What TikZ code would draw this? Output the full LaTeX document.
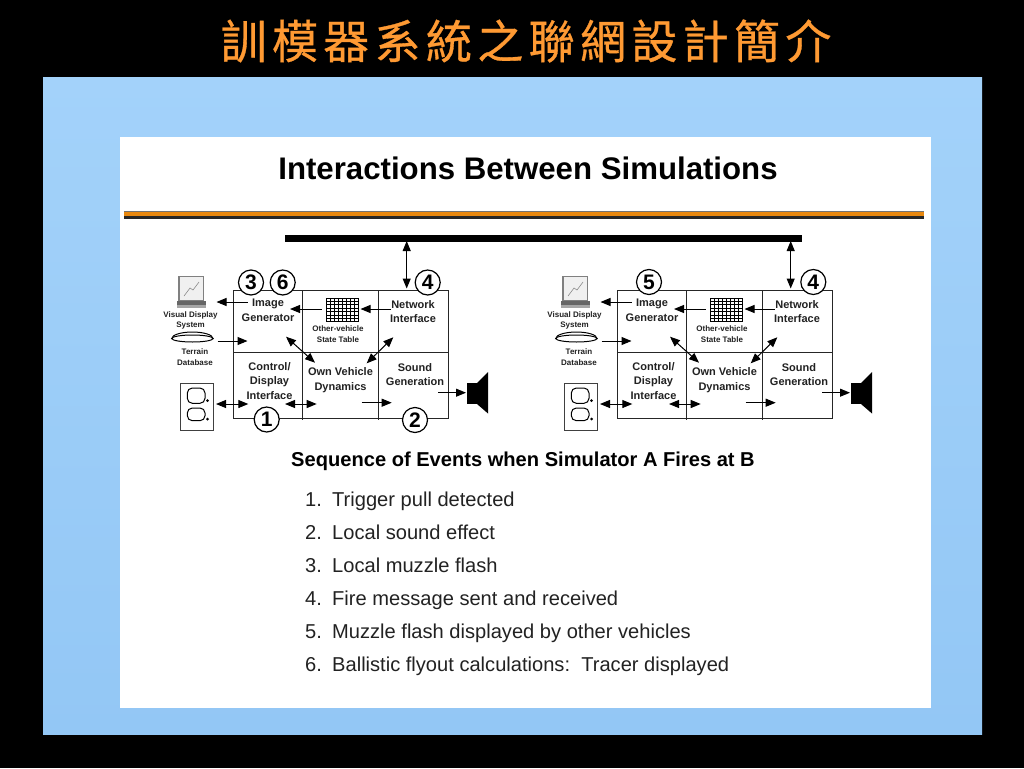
\documentclass[tikz,border=0pt]{standalone}
\usepackage{fontspec}
\setmainfont{Liberation Sans}
\newfontfamily\cjk[LetterSpace=11.6,FakeBold=0.7]{Noto Sans CJK TC}
\usetikzlibrary{arrows.meta,shadings}
\definecolor{skyblue}{HTML}{A3D2FA}
\definecolor{deepblue}{HTML}{93C7F5}
\definecolor{titleorange}{HTML}{FF9A33}
\definecolor{ruleorange}{HTML}{E8880F}
\definecolor{inkgray}{HTML}{222222}
\tikzset{
  sarrow/.style={line width=1pt,-{Stealth[length=10pt,width=8pt,inset=0pt]}},
  darrow/.style={line width=1pt,{Stealth[length=10pt,width=8pt,inset=0pt]}-{Stealth[length=10pt,width=8pt,inset=0pt]}},
  cell/.style={line width=0.9pt,black!85},
  boxlbl/.style={inner sep=0pt,align=center,text=inkgray,font=\fontsize{11}{14.7}\selectfont\bfseries},
  smalllbl/.style={inner sep=0pt,align=center,text=inkgray,font=\fontsize{8}{10.8}\selectfont\bfseries},
  stepnum/.style={circle,draw,fill=white,line width=1.2pt,minimum size=25pt,inner sep=0pt,font=\fontsize{21}{21}\selectfont\bfseries},
  itemlbl/.style={anchor=base west,inner sep=0pt,text=inkgray,font=\fontsize{20.1}{24}\selectfont},
}
\newcommand{\simblock}[2]{
  \begin{scope}[shift={(#2,0)},name prefix=#1-]
      \draw[cell] (233.5,290) rectangle (448,418);
      \draw[cell] (233.5,352)--(448,352);
      \draw[cell] (302,290)--(302,420);
      \draw[cell] (378,290)--(378,420);
      \node [boxlbl] (image) at (268,310) {Image\\Generator};
      \node [boxlbl] (network) at (413,311.5) {Network\\Interface};
      \node [boxlbl] (control) at (269.5,381) {Control/\\Display\\Interface};
      \node [boxlbl] (own) at (340.5,380) {Own Vehicle\\Dynamics};
      \node [boxlbl] (sound) at (415,374.5) {Sound\\Generation};
      \node [smalllbl] (state) at (338,334.5) {Other-vehicle\\State Table};
      \node [smalllbl] (visual) at (190.5,320.5) {Visual Display\\System};
      \node [smalllbl] (terrain) at (195,357) {Terrain\\Database};
      \foreach \gx in {326,330,...,358} \draw[line width=0.7pt] (\gx,298)--(\gx,322);
      \foreach \gy in {298,301.4,...,322.5} \draw[line width=0.7pt] (326,\gy)--(358,\gy);
      % monitor
      \draw[black!50,fill=black!6,line width=1.6pt] (179,276.5) rectangle (203.5,301);
      \draw[black!45,line width=0.6pt] (184,296)--(190,288)--(193,290)--(199,282);
      \fill[black!60] (177,301) rectangle (205.5,305);
      \fill[black!35] (176.5,305) rectangle (206,308);
      % disc
      \draw[line width=1pt,fill=white] (171.8,338.5) arc[start angle=180,end angle=360,x radius=20.6,y radius=6.5]--cycle;
      \draw[line width=1pt,fill=white] (192.4,338.5) ellipse (20.6 and 3.5);
      % outlet
      \draw[line width=1pt,black!75] (180.5,383.5) rectangle (213,430);
      \draw[line width=1pt,rounded corners=5pt] (187.3,388) rectangle (205,403.3);
      \draw[line width=1pt,rounded corners=5pt] (187.3,408) rectangle (205,420.7);
      \fill (207.5,400.7) circle (1.5);
      \fill (207.5,419) circle (1.5);
      % speaker
      \fill (466.5,383) rectangle (478,404);
      \fill (477,383)--(488,372)--(488,413.5)--(477,404)--cycle;
      \coordinate (igtext) at (247.5,302);
      \coordinate (igout) at (216.5,302);
      \coordinate (tabout) at (321.5,309);
      \coordinate (tabin) at (290,309);
      \coordinate (netout) at (390.5,309);
      \coordinate (netin) at (360.5,309);
      \coordinate (dbout) at (217.5,341);
      \coordinate (dbin) at (247.5,341);
      \coordinate (igdyn) at (286,336.7);
      \coordinate (dynig) at (315,362.7);
      \coordinate (netdyn) at (393.3,337.3);
      \coordinate (dynnet) at (366.7,363.3);
      \coordinate (plug) at (216,404);
      \coordinate (ctrl) at (248.3,404);
      \coordinate (ctrlb) at (285,404);
      \coordinate (dynb) at (316.7,404);
      \coordinate (dynout) at (361.7,402.7);
      \coordinate (sndin) at (391.7,402.7);
      \coordinate (sndout) at (438.3,392.7);
      \coordinate (spk) at (466,392.7);
      \draw[sarrow] (igtext)--(igout);
      \draw[sarrow] (tabout)--(tabin);
      \draw[sarrow] (netout)--(netin);
      \draw[sarrow] (dbout)--(dbin);
      \draw[darrow] (igdyn)--(dynig);
      \draw[darrow] (netdyn)--(dynnet);
      \draw[darrow] (plug)--(ctrl);
      \draw[darrow] (ctrlb)--(dynb);
      \draw[sarrow] (dynout)--(sndin);
      \draw[sarrow] (sndout)--(spk);
  \end{scope}
}
\begin{document}
\begin{tikzpicture}[x=1pt,y=-1pt]
      \useasboundingbox (0,0) rectangle (1024,768);
      \fill[black] (0,0) rectangle (1024,768);
      \shade[top color=skyblue,bottom color=deepblue] (43,77) rectangle (982,734);
      \fill[white] (120,137) rectangle (931,708);
      \node (slidetitle) at (526,41) {\cjk\fontsize{46}{50}\selectfont\color{titleorange}訓模器系統之聯網設計簡介};
      \node (heading) [inner sep=0pt] at (528,168) {\fontsize{31.2}{34}\selectfont\bfseries Interactions Between Simulations};
      \fill[black!55] (124,210.5) rectangle (924,212);
      \fill[ruleorange] (124,212) rectangle (924,216);
      \fill[black!85] (124,216) rectangle (924,218.5);
      \coordinate (busl) at (285,238);
      \coordinate (busr) at (802,238);
      \draw[line width=7pt] (busl)--(busr);
      \simblock{a}{0}
      \simblock{b}{384}
      \coordinate (busa) at (406.7,241);
      \coordinate (nia) at (406.7,288.5);
      \coordinate (busb) at (790.7,241);
      \coordinate (nib) at (790.7,288.5);
      \draw[darrow] (busa)--(nia);
      \draw[darrow] (busb)--(nib);
      \node [stepnum] (stepthree) at (251,282.5) {3};
      \node [stepnum] (stepsix) at (282.7,282.5) {6};
      \node [stepnum] (stepfour) at (427.7,282.5) {4};
      \node [stepnum] (stepone) at (266.7,419.5) {1};
      \node [stepnum] (steptwo) at (415,420) {2};
      \node [stepnum] (stepfive) at (649,282) {5};
      \node [stepnum] (stepfourb) at (813.3,282) {4};
      \node (sequence) [inner sep=0pt] at (523,461) {\fontsize{20.1}{24}\selectfont\bfseries Sequence of Events when Simulator A Fires at B};
      \foreach \n/\txt in {1/Trigger pull detected,2/Local sound effect,3/Local muzzle flash,4/Fire message sent and received,5/Muzzle flash displayed by other vehicles,6/{Ballistic flyout calculations:\ \ Tracer displayed}}{
        \node [itemlbl] (num\n) at (305,473+33*\n) {\n.};
        \node [itemlbl] (item\n) at (332,473+33*\n) {\txt};
      }
\end{tikzpicture}
\end{document}
